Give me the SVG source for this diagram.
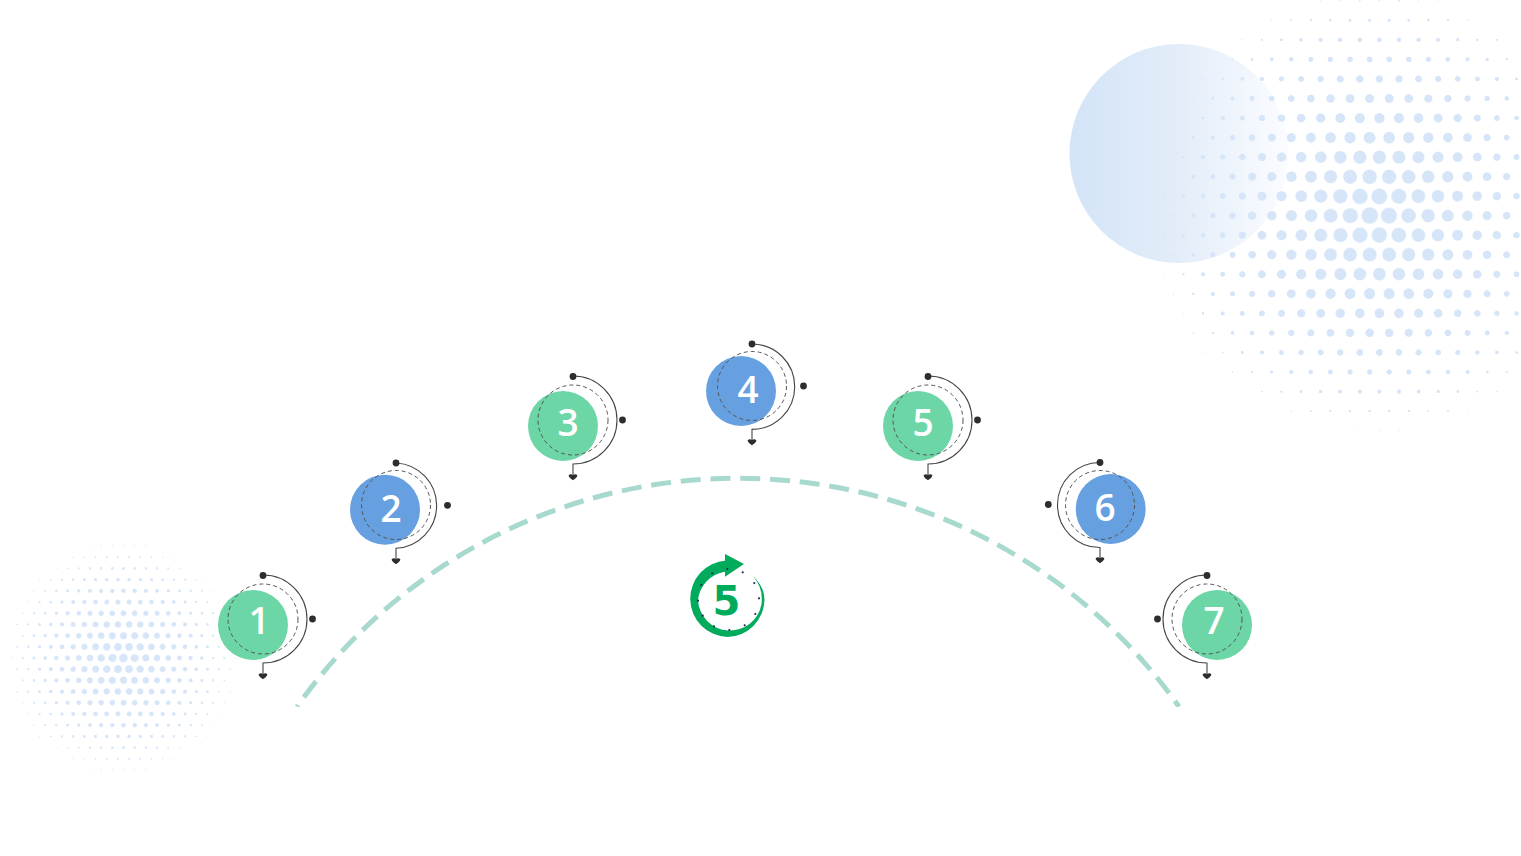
<svg xmlns="http://www.w3.org/2000/svg" width="1521" height="856" viewBox="0 0 1521 856">
<style>
.arc{fill:none;stroke:#454545;stroke-width:1.1}
.dash{fill:none;stroke:#555;stroke-width:1;stroke-dasharray:4 3}
.dot{fill:#2d2d2d}
.g{fill:#6dd6a6}
.b{fill:#66a0e0}
.num{font-family:"Open Sans","Noto Sans",sans-serif;font-weight:600;font-size:37px;fill:#fff;text-anchor:middle}
.tick{fill:#1c2a5a}
</style>
<defs>
<radialGradient id="dotGrad"><stop offset="0" stop-color="#000" stop-opacity=".8"/><stop offset="1" stop-color="#000" stop-opacity="0"/></radialGradient>
<radialGradient id="env"><stop offset="0" stop-opacity=".8"/><stop offset=".25" stop-opacity=".75"/><stop offset=".5" stop-opacity=".667"/><stop offset=".75" stop-opacity=".5"/><stop offset=".9" stop-opacity=".286"/><stop offset="1" stop-opacity="0"/></radialGradient>
<pattern id="tileR" patternUnits="userSpaceOnUse" x="1350" y="215.7" width="19.6" height="39.1">
<circle cx="0" cy="0" r="9.400" fill="url(#dotGrad)"/><circle cx="19.6" cy="0" r="9.400" fill="url(#dotGrad)"/><circle cx="0" cy="39.1" r="9.400" fill="url(#dotGrad)"/><circle cx="19.6" cy="39.1" r="9.400" fill="url(#dotGrad)"/><circle cx="9.8" cy="19.55" r="9.400" fill="url(#dotGrad)"/>
</pattern>
<pattern id="tileL" patternUnits="userSpaceOnUse" x="112.3" y="658" width="11.2" height="22.4">
<circle cx="0" cy="0" r="5.200" fill="url(#dotGrad)"/><circle cx="11.2" cy="0" r="5.200" fill="url(#dotGrad)"/><circle cx="0" cy="22.4" r="5.200" fill="url(#dotGrad)"/><circle cx="11.2" cy="22.4" r="5.200" fill="url(#dotGrad)"/><circle cx="5.6" cy="11.2" r="5.200" fill="url(#dotGrad)"/>
</pattern>
<filter id="htR" filterUnits="userSpaceOnUse" x="1100" y="-10" width="440" height="460" color-interpolation-filters="sRGB">
<feComponentTransfer in="SourceGraphic" result="a"><feFuncA type="linear" slope="36" intercept="-28.8"/></feComponentTransfer>
<feFlood flood-color="#d6e5f8"/><feComposite in2="a" operator="in"/>
</filter>
<filter id="htL" filterUnits="userSpaceOnUse" x="-20" y="510" width="290" height="290" color-interpolation-filters="sRGB">
<feComponentTransfer in="SourceGraphic" result="a"><feFuncA type="linear" slope="20" intercept="-16"/></feComponentTransfer>
<feFlood flood-color="#d6e5f8"/><feComposite in2="a" operator="in"/>
</filter>
<linearGradient id="bigC" x1="0" y1="0" x2="1" y2="0"><stop offset="0" stop-color="#d3e4f7"/><stop offset=".5" stop-color="#e3edf9"/><stop offset="1" stop-color="#fbfcff"/></linearGradient>
<path id="heart" d="M-4.300-1.800C-3-3.200-1-2.800 0-1.800C1-2.800 3-3.200 4.300-1.800C4.600 0 1.600 2.200 0 3.200C-1.600 2.200-4.600 0-4.300-1.800Z" fill="#2d2d2d"/>
<clipPath id="archClip"><rect x="0" y="0" width="1521" height="707"/></clipPath>
</defs>
<rect width="1521" height="856" fill="#fff"/>

<circle id="big-disc" cx="1179" cy="153.500" r="109.500" fill="url(#bigC)"/>
<g id="halftone-right" filter="url(#htR)">
<rect x="1100" y="-10" width="440" height="460" fill="url(#tileR)"/>
<circle cx="1375" cy="212" r="245" fill="url(#env)"/>
</g>
<g id="halftone-left" filter="url(#htL)">
<rect x="-20" y="510" width="290" height="290" fill="url(#tileL)"/>
<circle cx="122" cy="658" r="140" fill="url(#env)"/>
</g>

<g id="connectors">
<path clip-path="url(#archClip)" d="M297 706.700A539.800 539.800 0 0 1 1179 706.700" fill="none" stroke="#a8d9ce" stroke-width="5" stroke-dasharray="20 9.800" stroke-dashoffset="18.100"/>
</g>

<g id="node-1">
<circle class="g" cx="253" cy="625" r="35"/>
<circle class="dash" cx="263" cy="619" r="35"/>
<path class="arc" d="M263 575A44 44 0 0 1 263 663V675"/>
<circle class="dot" cx="263" cy="575.500" r="3.400"/><circle class="dot" cx="312.500" cy="619" r="3.400"/>
<use href="#heart" x="263" y="676"/>
<text class="num" x="259" y="634">1</text>
</g>
<g id="node-2">
<circle class="b" cx="385" cy="509.700" r="35"/>
<circle class="dash" cx="396" cy="505" r="34.500"/>
<path class="arc" d="M396 463A42.700 42.700 0 0 1 396 548.300V560"/>
<circle class="dot" cx="396" cy="463" r="3.400"/><circle class="dot" cx="447.500" cy="505.300" r="3.400"/>
<use href="#heart" x="396" y="561"/>
<text class="num" x="391" y="522">2</text>
</g>
<g id="node-3">
<circle class="g" cx="563" cy="426" r="35"/>
<circle class="dash" cx="573" cy="420" r="35"/>
<path class="arc" d="M573 376A44 44 0 0 1 573 464V476"/>
<circle class="dot" cx="573" cy="376.500" r="3.400"/><circle class="dot" cx="622.500" cy="420" r="3.400"/>
<use href="#heart" x="573" y="477"/>
<text class="num" x="568" y="436">3</text>
</g>
<g id="node-4">
<circle class="b" cx="741" cy="391" r="35"/>
<circle class="dash" cx="752" cy="386" r="34.500"/>
<path class="arc" d="M752 344A42.700 42.700 0 0 1 752 429.400V441"/>
<circle class="dot" cx="752" cy="344" r="3.400"/><circle class="dot" cx="803.500" cy="386" r="3.400"/>
<use href="#heart" x="752" y="442"/>
<text class="num" x="748" y="403">4</text>
</g>
<g id="node-5">
<circle class="g" cx="918" cy="426" r="35"/>
<circle class="dash" cx="928" cy="420" r="35"/>
<path class="arc" d="M928 376A44 44 0 0 1 928 464V476"/>
<circle class="dot" cx="928" cy="376.500" r="3.400"/><circle class="dot" cx="977.500" cy="420" r="3.400"/>
<use href="#heart" x="928" y="477"/>
<text class="num" x="923" y="436">5</text>
</g>
<g id="node-6">
<circle class="b" cx="1110.700" cy="509" r="35"/>
<circle class="dash" cx="1100" cy="505" r="34.500"/>
<path class="arc" d="M1100 462.500A42.500 42.500 0 0 0 1100 547.500V559"/>
<circle class="dot" cx="1100" cy="462.500" r="3.400"/><circle class="dot" cx="1048.300" cy="504.500" r="3.400"/>
<use href="#heart" x="1100" y="560"/>
<text class="num" x="1105" y="521">6</text>
</g>
<g id="node-7">
<circle class="g" cx="1217" cy="625" r="35"/>
<circle class="dash" cx="1207" cy="619" r="35"/>
<path class="arc" d="M1207 575A44 44 0 0 0 1207 663V675"/>
<circle class="dot" cx="1207" cy="575.500" r="3.400"/><circle class="dot" cx="1157.500" cy="619" r="3.400"/>
<use href="#heart" x="1207" y="676"/>
<text class="num" x="1214" y="634">7</text>
</g>

<g id="icon-5">
<path d="M726 560.500A38.300 38.300 0 0 0 727.500 637A38 38 0 0 0 764.500 600Q764.500 587 753 576Q763.500 588 761.500 604A32 32 0 0 1 698 600A32 32 0 0 1 725 571.700V576.700L744 564L725 554V560.500Z" fill="#00ab5c"/>
<circle class="tick" cx="727.300" cy="569" r="1.100"/><circle class="tick" cx="742.700" cy="572.300" r="1.100"/><circle class="tick" cx="754.300" cy="583" r="1.100"/><circle class="tick" cx="759" cy="598.300" r="1.100"/><circle class="tick" cx="755.300" cy="614" r="1.100"/><circle class="tick" cx="744.700" cy="625.300" r="1.100"/><circle class="tick" cx="729.300" cy="630" r="1.100"/><circle class="tick" cx="714" cy="626.300" r="1.100"/><circle class="tick" cx="702.700" cy="615.700" r="1.100"/><circle class="tick" cx="698" cy="600.700" r="1.100"/><circle class="tick" cx="701.300" cy="585" r="1.100"/><circle class="tick" cx="712.300" cy="573.300" r="1.100"/>
<text x="726.500" y="615" font-family="'DejaVu Sans',sans-serif" font-weight="700" font-size="40" fill="#00ab5c" text-anchor="middle">5</text>
</g>
</svg>
